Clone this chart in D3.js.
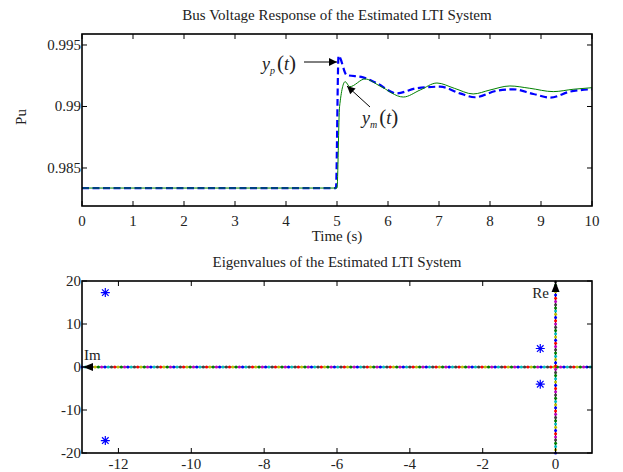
<!DOCTYPE html>
<html>
<head>
<meta charset="utf-8">
<script src="https://d3js.org/d3.v7.min.js"></script>
<style>
  body { margin: 0; background: #fff; }
</style>
</head>
<body>
<svg id="chart"></svg>
<script>
const svgWidth = 623;
const svgHeight = 472;

// Top plot: bus voltage response
const timeTicks = [0, 1, 2, 3, 4, 5, 6, 7, 8, 9, 10];
const puTicks = [0.985, 0.99, 0.995];
const puTickLabels = ["0.985", "0.99", "0.995"];

// y_p(t), blue dashed
const ypTime = [0, 4.98, 5.03, 5.19, 5.51, 5.78, 6.17, 6.56, 7.02, 7.41, 7.7, 8.13, 8.45, 8.85, 9.18, 9.57, 10];
const ypValue = [0.98337, 0.98337, 0.99411, 0.99256, 0.99237, 0.99189, 0.99107, 0.99148, 0.99161, 0.99107, 0.99075, 0.99128, 0.9914, 0.99102, 0.99072, 0.99121, 0.9914];

// y_m(t), green solid
const ymTime = [0, 5.0, 5.05, 5.16, 5.25, 5.55, 5.84, 6.3, 6.63, 6.96, 7.3, 7.67, 8.0, 8.39, 8.78, 9.24, 9.63, 10];
const ymValue = [0.98337, 0.98337, 0.98998, 0.99202, 0.99161, 0.99224, 0.99167, 0.99077, 0.99134, 0.99191, 0.99148, 0.99102, 0.99134, 0.99167, 0.99148, 0.99121, 0.9914, 0.99153];

// Bottom plot: eigenvalues
const reTicks = [-12, -10, -8, -6, -4, -2, 0];
const imTicks = [-20, -10, 0, 10, 20];
const eigRe = [-12.36, -12.36, -0.42, -0.42];
const eigIm = [17.3, -17.1, 4.3, -4.0];

// MATLAB colour cycle used by the dotted axis lines
const dotColors = ["#0000ff", "#008000", "#ff0000", "#00bfbf", "#bf00bf", "#bfbf00", "#404040"];

const serif = "'Liberation Serif', 'DejaVu Serif', 'Times New Roman', serif";
const fs = 15;

const svg = d3.select("#chart")
  .attr("width", svgWidth)
  .attr("height", svgHeight)
  .attr("font-family", serif);

svg.append("rect").attr("width", svgWidth).attr("height", svgHeight).attr("fill", "#fff");

const left = 82, right = 592;
const top1 = 34, bottom1 = 206;
const top2 = 281, bottom2 = 453;

const x1 = d3.scaleLinear().domain([0, 10]).range([left, right]);
const y1 = d3.scaleLinear().domain([0.98191, 0.995894]).range([bottom1, top1]);
const x2 = d3.scaleLinear().domain([-13, 1]).range([left, right]);
const y2 = d3.scaleLinear().domain([-20, 20]).range([bottom2, top2]);

// arrow marker
svg.append("defs").append("marker")
  .attr("id", "arrow")
  .attr("viewBox", "0 0 10 10")
  .attr("refX", 10).attr("refY", 5)
  .attr("markerWidth", 10).attr("markerHeight", 8)
  .attr("markerUnits", "userSpaceOnUse")
  .attr("orient", "auto")
  .append("path")
  .attr("d", "M0,0 L10,5 L0,10 Z")
  .attr("fill", "#000");

// inward MATLAB-style ticks on all four sides
function drawBox(g, xs, ys, xt, yt, top, bottom) {
  const tl = 5;
  g.selectAll(".xt").data(xt).enter().append("path")
    .attr("d", d => `M${xs(d)},${bottom}v${-tl}M${xs(d)},${top}v${tl}`)
    .attr("stroke", "#000").attr("stroke-width", 1);
  g.selectAll(".yt").data(yt).enter().append("path")
    .attr("d", d => `M${left},${ys(d)}h${tl}M${right},${ys(d)}h${-tl}`)
    .attr("stroke", "#000").attr("stroke-width", 1);
  g.append("rect")
    .attr("x", left).attr("y", top)
    .attr("width", right - left).attr("height", bottom - top)
    .attr("fill", "none").attr("stroke", "#000").attr("stroke-width", 1.6);
}

// ---- top plot ----
const g1 = svg.append("g");

const line1 = d3.line()
  .x(d => x1(d[0]))
  .y(d => y1(d[1]))
  .curve(d3.curveMonotoneX);

g1.append("path")
  .datum(d3.zip(ypTime, ypValue))
  .attr("d", line1)
  .attr("fill", "none")
  .attr("stroke", "#0000ff")
  .attr("stroke-width", 2.2)
  .attr("stroke-dasharray", "7,3.5");

g1.append("path")
  .datum(d3.zip(ymTime, ymValue))
  .attr("d", line1)
  .attr("fill", "none")
  .attr("stroke", "#008000")
  .attr("stroke-width", 1);

drawBox(g1, x1, y1, timeTicks, puTicks, top1, bottom1);

g1.selectAll(".xl").data(timeTicks).enter().append("text")
  .attr("x", d => x1(d)).attr("y", 226)
  .attr("text-anchor", "middle").attr("font-size", fs)
  .attr("fill", "#222")
  .text(d => d);

g1.selectAll(".yl").data(puTicks).enter().append("text")
  .attr("x", left - 1).attr("y", d => y1(d) + 5)
  .attr("text-anchor", "end").attr("font-size", fs)
  .attr("fill", "#222")
  .text((d, i) => puTickLabels[i]);

g1.append("text")
  .attr("x", 337).attr("y", 20)
  .attr("text-anchor", "middle").attr("font-size", fs)
  .attr("fill", "#222")
  .text("Bus Voltage Response of the Estimated LTI System");

g1.append("text")
  .attr("x", 337).attr("y", 241)
  .attr("text-anchor", "middle").attr("font-size", fs)
  .attr("fill", "#222")
  .text("Time (s)");

g1.append("text")
  .attr("transform", "translate(26,117) rotate(-90)")
  .attr("text-anchor", "middle").attr("font-size", fs)
  .attr("fill", "#222")
  .text("Pu");

// math labels
function mathLabel(g, x, y, sub) {
  const t = g.append("text").attr("x", x).attr("y", y).attr("font-size", 18).attr("fill", "#222");
  t.append("tspan").attr("font-style", "italic").text("y");
  t.append("tspan").attr("font-style", "italic").attr("font-size", 10).attr("dy", 4).text(sub);
  t.append("tspan").attr("dy", -4).attr("font-size", 21).attr("dx", 2).text("(");
  t.append("tspan").attr("font-style", "italic").text("t");
  t.append("tspan").attr("font-size", 21).text(")");
}
mathLabel(g1, 262, 70, "p");
mathLabel(g1, 362, 124, "m");

g1.append("line")
  .attr("x1", 304).attr("y1", 62).attr("x2", x1(5.0)).attr("y2", 62)
  .attr("stroke", "#000").attr("stroke-width", 1)
  .attr("marker-end", "url(#arrow)");

g1.append("line")
  .attr("x1", 370).attr("y1", 107).attr("x2", 347).attr("y2", 86)
  .attr("stroke", "#000").attr("stroke-width", 1)
  .attr("marker-end", "url(#arrow)");

// ---- bottom plot ----
const g2 = svg.append("g");

// black axis lines under the coloured dots
g2.append("line")
  .attr("x1", x2(1)).attr("y1", y2(0)).attr("x2", x2(-13)).attr("y2", y2(0))
  .attr("stroke", "#000").attr("stroke-width", 1);
g2.append("line")
  .attr("x1", x2(0)).attr("y1", y2(-20)).attr("x2", x2(0)).attr("y2", y2(20))
  .attr("stroke", "#000").attr("stroke-width", 1);

const hDots = d3.range(-13, 1.001, 0.09);
g2.selectAll(".hd").data(hDots).enter().append("circle")
  .attr("cx", d => x2(d)).attr("cy", y2(0)).attr("r", 1.5)
  .attr("fill", (d, i) => dotColors[(i * 3) % 7]);

const vDots = d3.range(-20, 20.001, 0.75);
g2.selectAll(".vd").data(vDots).enter().append("circle")
  .attr("cx", x2(0)).attr("cy", d => y2(d)).attr("r", 1.5)
  .attr("fill", (d, i) => dotColors[(i * 5) % 7]);

// arrowheads on top of dots
g2.append("path")
  .attr("d", `M${x2(-13) + 1},${y2(0)} l10,-4 v8 Z`)
  .attr("fill", "#000");
g2.append("path")
  .attr("d", `M${x2(0)},${y2(20) + 1} l-4,10 h8 Z`)
  .attr("fill", "#000");

// eigenvalue stars
g2.selectAll(".eig").data(d3.zip(eigRe, eigIm)).enter().append("path")
  .attr("transform", d => `translate(${x2(d[0])},${y2(d[1])})`)
  .attr("d", "M-4.5,0H4.5M0,-4.5V4.5M-3.3,-3.3L3.3,3.3M-3.3,3.3L3.3,-3.3")
  .attr("stroke", "#0000ff").attr("stroke-width", 1.2)
  .attr("fill", "none");

drawBox(g2, x2, y2, reTicks, imTicks, top2, bottom2);

g2.selectAll(".xl").data(reTicks).enter().append("text")
  .attr("x", d => x2(d)).attr("y", 469)
  .attr("text-anchor", "middle").attr("font-size", fs)
  .attr("fill", "#222")
  .text(d => d);

g2.selectAll(".yl").data(imTicks).enter().append("text")
  .attr("x", left - 1).attr("y", d => y2(d) + 5)
  .attr("text-anchor", "end").attr("font-size", fs)
  .attr("fill", "#222")
  .text(d => d);

g2.append("text")
  .attr("x", 337).attr("y", 267)
  .attr("text-anchor", "middle").attr("font-size", fs)
  .attr("fill", "#222")
  .text("Eigenvalues of the Estimated LTI System");

g2.append("text")
  .attr("x", 84).attr("y", 360)
  .attr("font-size", fs)
  .attr("fill", "#222")
  .text("Im");

g2.append("text")
  .attr("x", 549).attr("y", 298)
  .attr("text-anchor", "end").attr("font-size", fs)
  .attr("fill", "#222")
  .text("Re");
</script>
</body>
</html>
